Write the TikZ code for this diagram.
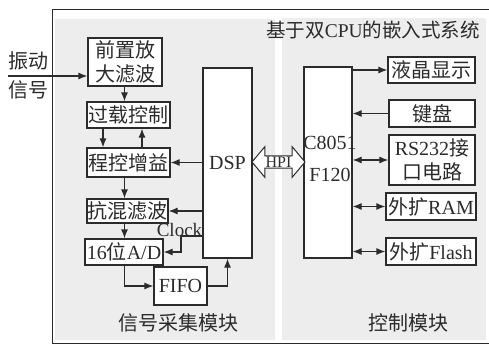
\documentclass[tikz,border=0pt]{standalone}
\usepackage{fontspec}
\setmainfont{Liberation Serif}
\newfontfamily\cjk{Noto Sans CJK SC}
\usetikzlibrary{arrows.meta,shapes.arrows}
\newcommand\zh[1]{{\cjk #1}}
\definecolor{linec}{HTML}{2B2B2B}
\definecolor{panelc}{HTML}{EDEDED}
\begin{document}
\begin{tikzpicture}[x=1pt,y=-1pt,
  box/.style={draw=linec, line width=1.2pt, fill=white, inner sep=0pt, text=linec,
    font=\fontsize{20}{24}\selectfont, align=center},
  arr/.style={draw=linec, line width=1.2pt, -{Latex[length=9pt,width=7pt]}},
  darr/.style={draw=linec, line width=1.2pt, {Latex[length=9pt,width=7pt]}-{Latex[length=9pt,width=7pt]}},
  lbl/.style={font=\fontsize{20}{24}\selectfont, inner sep=0pt, text=linec, align=center},
  plain/.style={draw=linec, line width=1.2pt}]
\useasboundingbox (0,0) rectangle (489,347);
% panels and frame
\fill[white] (0,0) rectangle (489,347);
\fill[panelc] (55,19) rectangle (275,340);
\fill[panelc] (282,18) rectangle (486,340);
\draw[linec, line width=1pt] (52,10) rectangle (490,343);
% titles
\node[lbl, font=\fontsize{19.5}{24}\selectfont] (title) at (373,30) {\zh{基于双}CPU\zh{的嵌入式系统}};
\node[lbl] (lmod) at (178,323) {\zh{信号采集模块}};
\node[lbl] (rmod) at (408,323) {\zh{控制模块}};
% left column
\node[box, minimum width=74, minimum height=48] (pre) at (125,62) {\zh{前置放}\\\zh{大滤波}};
\node[box, minimum width=83, minimum height=26] (over) at (128.5,115) {\zh{过载控制}};
\node[box, minimum width=83, minimum height=29] (prog) at (128.5,162.5) {\zh{程控增益}};
\node[box, minimum width=81, minimum height=24] (anti) at (127.5,211) {\zh{抗混滤波}};
\node[box, minimum width=78, minimum height=26] (ad) at (124,252) {16\zh{位}A/D};
\node[box, minimum width=53, minimum height=38] (fifo) at (180.5,286) {FIFO};
\node[box, minimum width=49, minimum height=190] (dsp) at (227.5,163) {DSP};
% right column
\node[box, minimum width=48, minimum height=191] (c8) at (328,162.5) {};
\node[lbl, font=\fontsize{20}{32}\selectfont] (c8t) at (330,159) {C8051\\F120};
\node[box, minimum width=87, minimum height=26] (lcd) at (431.5,70) {\zh{液晶显示}};
\node[box, minimum width=86, minimum height=27] (kbd) at (432,113.5) {\zh{键盘}};
\node[box, minimum width=86, minimum height=50] (rs) at (432,160) {RS232\zh{接}\\\zh{口电路}};
\node[box, minimum width=90, minimum height=27] (ram) at (431,206.5) {\zh{外扩}RAM};
\node[box, minimum width=90, minimum height=27] (flash) at (431,251.5) {\zh{外扩}Flash};
% HPI
\node[draw=linec, fill=white, line width=1pt, double arrow, minimum height=53, minimum width=30,
  double arrow head extend=9, double arrow tip angle=100, inner xsep=0pt, inner ysep=0.5pt, text=linec,
  font=\fontsize{16}{16}\selectfont] (hpi) at (278.5,162) {HPI};
% input
\node[lbl] (in1) at (29,61) {\zh{振动}};
\node[lbl] (in2) at (29,90) {\zh{信号}};
\coordinate (in) at (8,76);
\draw[arr] (in) -- (in -| pre.west);
% left connections
\coordinate (col) at (124.5,0);
\coordinate (dn) at (103,0);
\coordinate (up) at (142,0);
\coordinate (clk) at (181,236);
\draw[arr] (pre.south -| col) -- (over.north -| col);
\draw[arr] (over.south -| dn) -- (prog.north -| dn);
\draw[arr] (prog.north -| up) -- (over.south -| up);
\draw[arr] (prog.east -| dsp.west) -- (prog.east);
\draw[arr] (prog.south -| col) -- (anti.north -| col);
\draw[arr] (anti.east -| dsp.west) -- (anti.east);
\draw[arr] (anti.south -| col) -- (ad.north -| col);
\draw[arr] (dsp.west |- clk) -- (clk) |- (ad.east);
\node[lbl, font=\fontsize{19}{20}\selectfont] (clock) at (179.5,230) {Clock};
\draw[arr] (ad.south -| col) |- (fifo.west);
\draw[arr] (fifo.east) -| (dsp.south);
% right connections
\draw[arr] (lcd.west -| c8.east) -- (lcd.west);
\draw[arr] (kbd.west) -- (kbd.west -| c8.east);
\draw[darr] (rs.west -| c8.east) -- (rs.west);
\draw[darr] (ram.west -| c8.east) -- (ram.west);
\draw[darr] (flash.west -| c8.east) -- (flash.west);
\end{tikzpicture}
\end{document}
